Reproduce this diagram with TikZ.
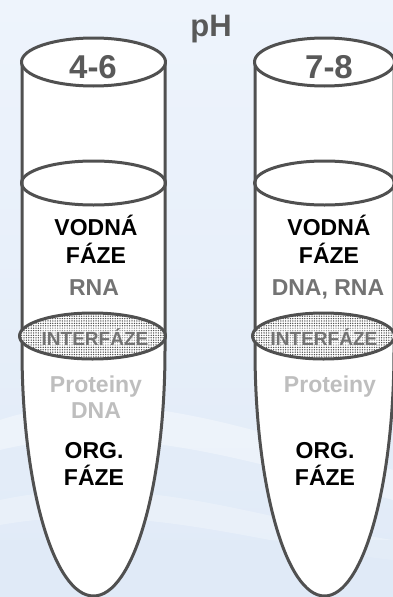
\documentclass[tikz,border=0pt]{standalone}
\usepackage{fontspec}
\setmainfont{Liberation Sans}
\usepackage{xcolor}
\definecolor{bgblue}{RGB}{224,234,247}
\definecolor{bglight}{RGB}{238,244,252}
\definecolor{tubegray}{RGB}{80,80,80}
\definecolor{labgray}{RGB}{89,89,89}
\definecolor{midgray}{RGB}{115,115,115}
\definecolor{palegray}{RGB}{190,190,190}
\usepackage{tikz}
\usetikzlibrary{patterns.meta}
\tikzset{
  tubeline/.style={line width=3pt,draw=tubegray,line join=round},
  lab/.style={font=\bfseries\fontsize{23}{26}\selectfont,anchor=base,inner sep=0pt},
  interlab/.style={lab,font=\bfseries\fontsize{19}{20}\selectfont,midgray,
    fill=white,fill opacity=0.4,text opacity=1,inner sep=1pt,rounded corners=3pt},
}
% zkumavka: #1 = stred v x, #2 = polomer
\newcommand{\tube}[2]{%
\draw[tubeline,fill=white] ({#1-#2},62) -- ({#1-#2},350)
  arc [start angle=180,end angle=0,x radius=#2,y radius=246] -- ({#1+#2},62) -- cycle;
\draw[tubeline,fill=white] (#1,62) ellipse [x radius={#2+0.5},y radius=24];
\draw[tubeline] (#1,183) ellipse [x radius={#2+0.5},y radius=22];
\fill[white] ({#1-1},336) ellipse [x radius={#2+1.5},y radius=23];
\draw[tubeline,pattern={Dots[distance=2.4pt,radius=0.75pt]},pattern color=tubegray]
  ({#1-1},336) ellipse [x radius={#2+1.5},y radius=23];
}

\begin{document}
\begin{tikzpicture}[x=1pt,y=-1pt]
\useasboundingbox (0,0) rectangle (393,597);
% ---- pozadi ----
\shade[top color=bglight,bottom color=bgblue] (0,0) rectangle (393,597);
\fill[white,opacity=0.35] (0,420) .. controls (120,380) and (250,430) .. (393,470) -- (393,500) .. controls (250,460) and (120,420) .. (0,450) -- cycle;
\fill[white,opacity=0.25] (0,500) .. controls (140,470) and (260,520) .. (393,540) -- (393,560) .. controls (260,545) and (140,500) .. (0,525) -- cycle;
\fill[bgblue,opacity=0.5] (0,540) rectangle (393,597);
% ---- zkumavky ----
\tube{93.5}{71.5}
\tube{324.5}{69.5}
% ---- popisky ----
\node[lab,font=\bfseries\fontsize{31}{32}\selectfont,labgray] (ph) at (211,36) {pH};
\node[lab,font=\bfseries\fontsize{33}{34}\selectfont,labgray] (phA) at (93,78) {4-6};
\node[lab,font=\bfseries\fontsize{33}{34}\selectfont,labgray] (phB) at (329,78) {7-8};
% leva: pH 4-6
\node[lab] (vodA) at (96,235) {VODNÁ};
\node[lab] (fazA) at (96,263) {FÁZE};
\node[lab,midgray] (rnaA) at (94,295) {RNA};
\node[interlab] (intA) at (95,345) {INTERFÁZE};
\node[lab,palegray] (protA) at (96,392) {Proteiny};
\node[lab,palegray] (dnaA) at (96,418) {DNA};
\node[lab] (orgA) at (94,458) {ORG.};
\node[lab] (fazA2) at (94,485) {FÁZE};
% prava: pH 7-8
\node[lab] (vodB) at (329,235) {VODNÁ};
\node[lab] (fazB) at (329,263) {FÁZE};
\node[lab,midgray] (rnaB) at (328,295) {DNA, RNA};
\node[interlab] (intB) at (324,345) {INTERFÁZE};
\node[lab,palegray] (protB) at (330,392) {Proteiny};
\node[lab] (orgB) at (325,458) {ORG.};
\node[lab] (fazB2) at (325,485) {FÁZE};
\end{tikzpicture}
\end{document}
